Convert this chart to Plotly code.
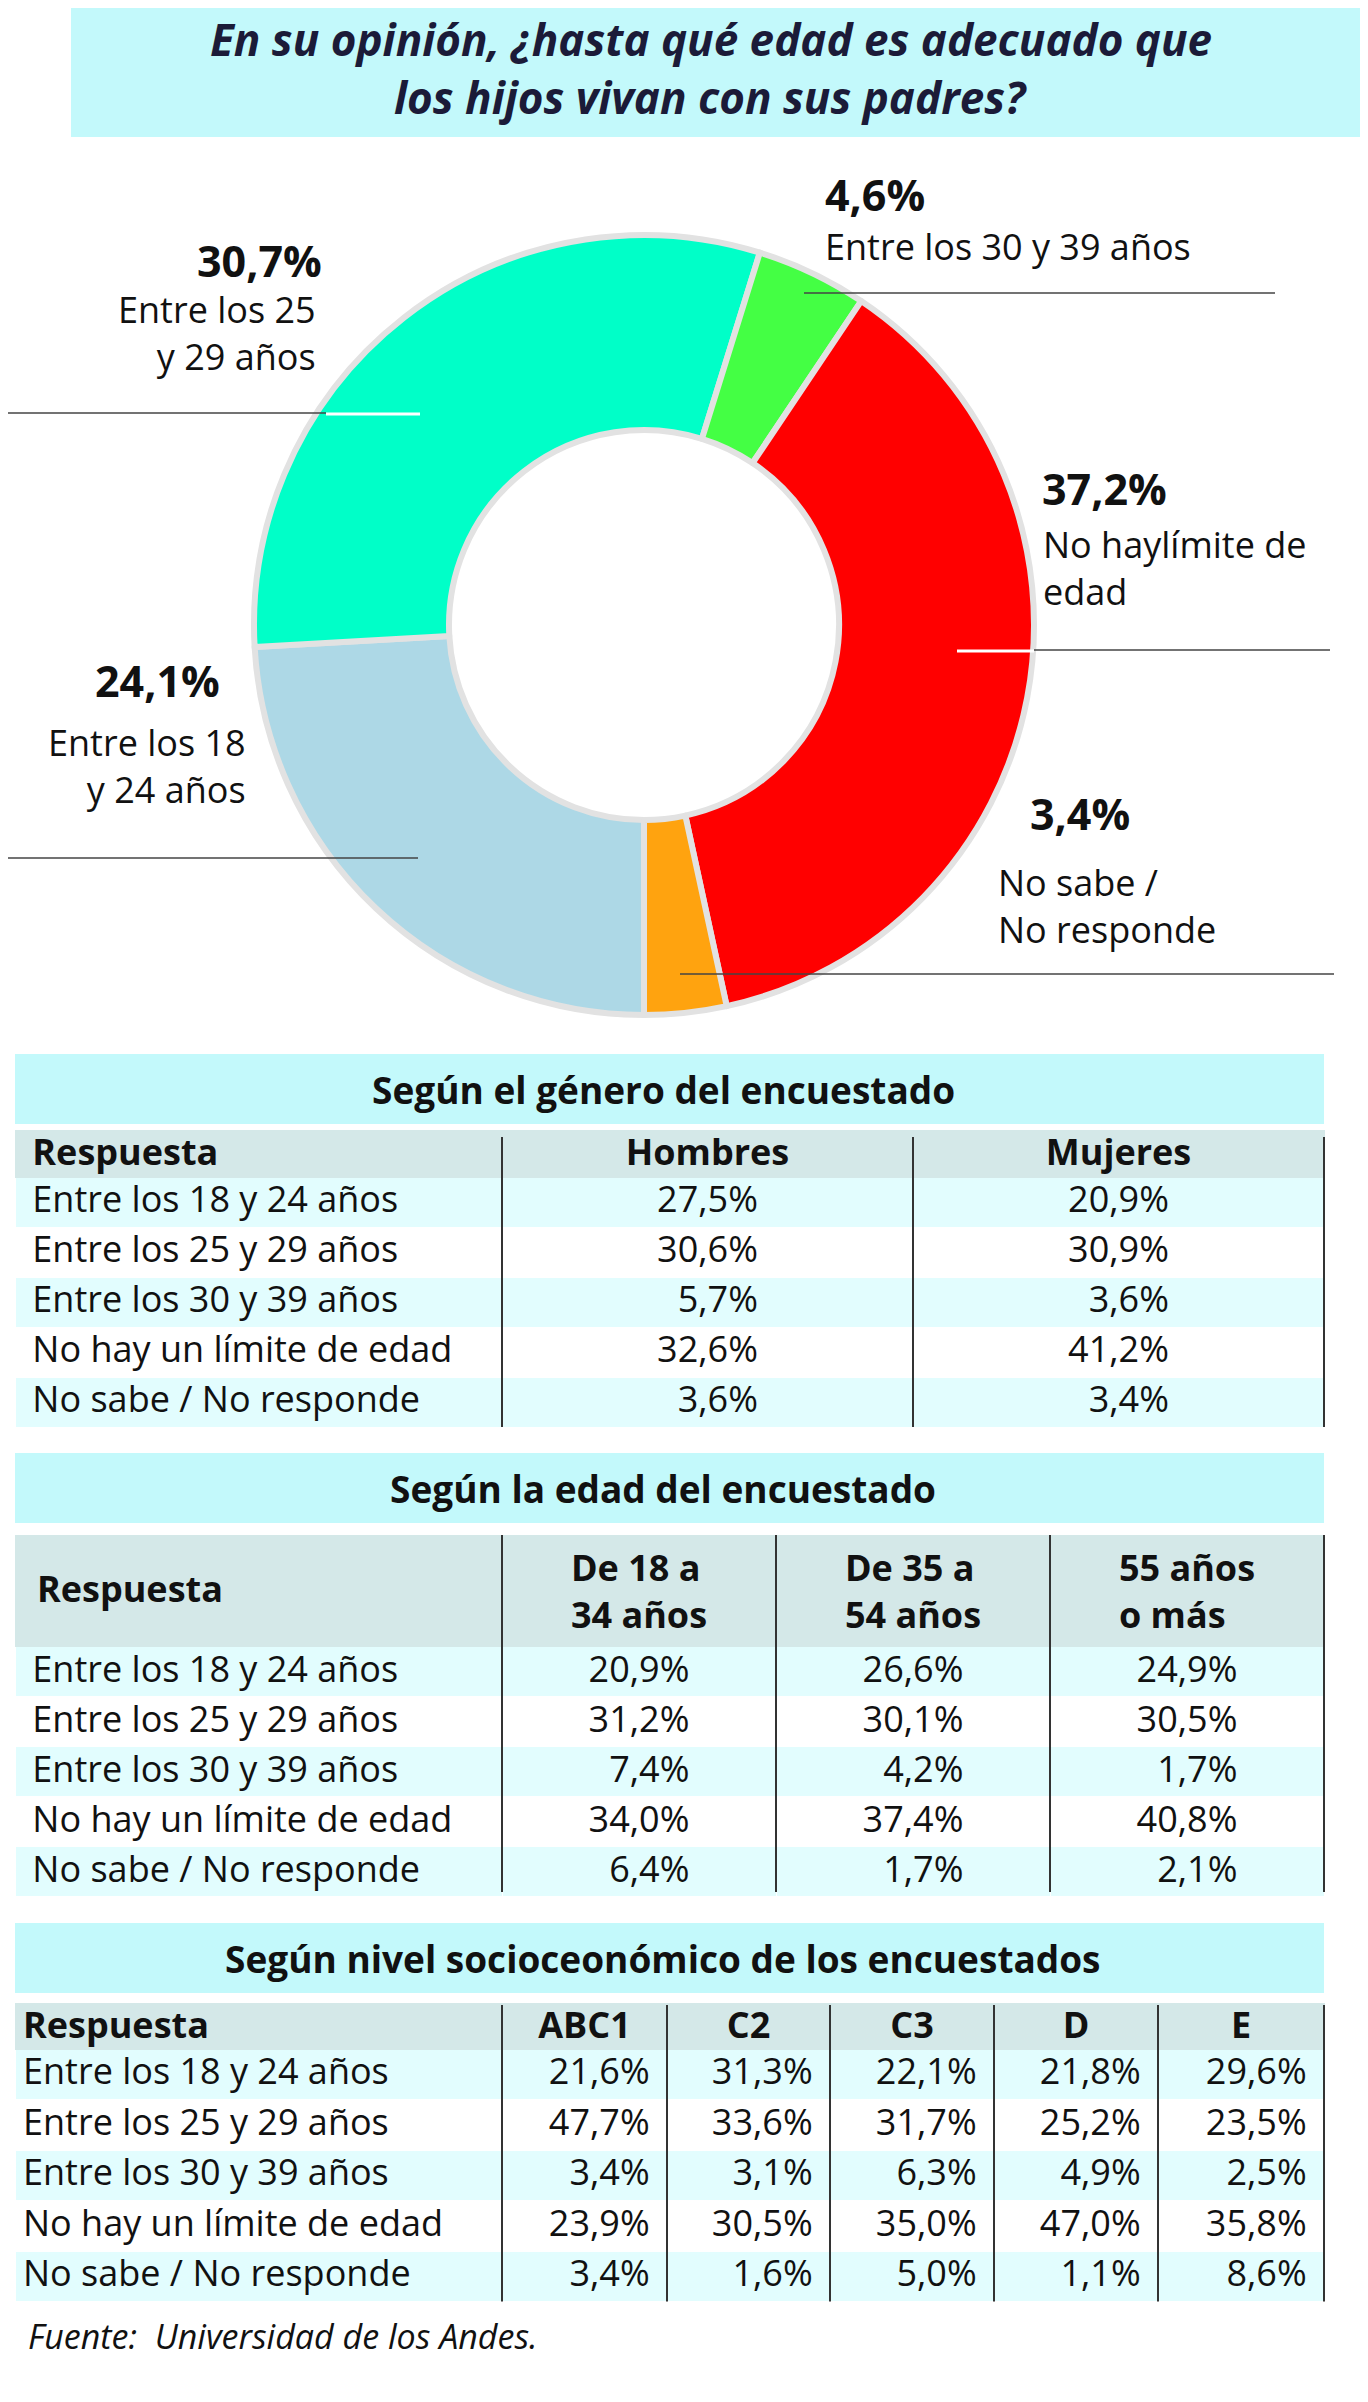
import plotly.graph_objects as go

W, H = 1368, 2402

# ── DATA ──────────────────────────────────────────────────────────────────────

TITLE_LINES = [
    "En su opinión, ¿hasta qué edad es adecuado que",
    "los hijos vivan con sus padres?",
]

SLICE_NAMES = [
    "Entre los 18<br>y 24 años",
    "Entre los 25<br>y 29 años",
    "Entre los 30 y 39 años",
    "No haylímite de<br>edad",
    "No sabe /<br>No responde",
]
SLICE_VALUES = [24.1, 30.7, 4.6, 37.2, 3.4]

RESPUESTAS = [
    "Entre los 18 y 24 años",
    "Entre los 25 y 29 años",
    "Entre los 30 y 39 años",
    "No hay un límite de edad",
    "No sabe / No responde",
]

GENERO_TITLE = "Según el género del encuestado"
GENERO_COLS = ["Hombres", "Mujeres"]
HOMBRES = [27.5, 30.6, 5.7, 32.6, 3.6]
MUJERES = [20.9, 30.9, 3.6, 41.2, 3.4]

EDAD_TITLE = "Según la edad del encuestado"
EDAD_COLS = ["De 18 a<br>34 años", "De 35 a<br>54 años", "55 años<br>o más"]
EDAD_18_34 = [20.9, 31.2, 7.4, 34.0, 6.4]
EDAD_35_54 = [26.6, 30.1, 4.2, 37.4, 1.7]
EDAD_55_MAS = [24.9, 30.5, 1.7, 40.8, 2.1]

NSE_TITLE = "Según nivel socioceonómico de los encuestados"
NSE_COLS = ["ABC1", "C2", "C3", "D", "E"]
NSE_ABC1 = [21.6, 47.7, 3.4, 23.9, 3.4]
NSE_C2 = [31.3, 33.6, 3.1, 30.5, 1.6]
NSE_C3 = [22.1, 31.7, 6.3, 35.0, 5.0]
NSE_D = [21.8, 25.2, 4.9, 47.0, 1.1]
NSE_E = [29.6, 23.5, 2.5, 35.8, 8.6]

SOURCE = "Fuente:  Universidad de los Andes."

# ── STYLE ─────────────────────────────────────────────────────────────────────

FONT = "Open Sans"
SLICE_COLORS = ["#add8e6", "#00ffc8", "#44ff44", "#ff0000", "#ffa30f"]
BAND_BG = "#c3f9fb"
HEAD_BG = "#d4e8e8"
ROW_BG = "#e2fdfe"
TEXT = "#111111"

# label placement for each slice (px from top-left of the page)
LABEL_POS = [
    # pct_x, pct_y, name_x, name_y, anchor
    (214, 672, 240, 758, "right"),
    (316, 253, 310, 325, "right"),
    (815, 186, 815, 239, "left"),
    (1032, 480, 1033, 560, "left"),
    (1020, 805, 988, 898, "left"),
]
# leader lines: y, outer x, x where the ring starts, inner x
LEADERS = [
    (850, 0, 410, 410),
    (405, 0, 318, 412),
    (285, 1267, 796, 796),
    (642, 1322, 1026, 949),
    (966, 1326, 672, 672),
]


def px(x):
    return x / W


def py(y):
    return 1 - y / H


def pct(v):
    return f"{v:.1f}%".replace(".", ",")


def padded(v):
    s = pct(v)
    return "\u2007" * (5 - len(s)) + s


fig = go.Figure()

# ── TITLE ─────────────────────────────────────────────────────────────────────

fig.add_shape(type="rect", xref="paper", yref="paper",
              x0=px(63), x1=px(1368), y0=py(129), y1=py(0),
              fillcolor=BAND_BG, line_width=0, layer="below")
for line, yc in zip(TITLE_LINES, [31, 89]):
    fig.add_annotation(x=px(703), y=py(yc), xref="paper", yref="paper",
                       text=f"<b><i>{line}</i></b>", showarrow=False,
                       xanchor="center", yanchor="middle",
                       font=dict(family=FONT, size=44, color="#1b1b38"))

# ── DONUT ─────────────────────────────────────────────────────────────────────

cx, cy, r = 636, 617, 390
fig.add_trace(go.Pie(
    values=SLICE_VALUES,
    labels=[n.replace("<br>", " ") for n in SLICE_NAMES],
    hole=0.5,
    sort=False,
    direction="clockwise",
    rotation=180,
    textinfo="none",
    marker=dict(colors=SLICE_COLORS, line=dict(color="#e2e2e2", width=6)),
    domain=dict(x=[px(cx - r), px(cx + r)], y=[py(cy + r), py(cy - r)]),
    showlegend=False,
    hoverinfo="label+value",
))

for (yl, x_out, x_edge, x_in) in LEADERS:
    fig.add_shape(type="line", xref="paper", yref="paper",
                  x0=px(x_out), x1=px(x_edge), y0=py(yl), y1=py(yl),
                  line=dict(color="#444444", width=1.5))
    if x_edge != x_in:
        fig.add_shape(type="line", xref="paper", yref="paper",
                      x0=px(x_edge), x1=px(x_in), y0=py(yl + 1), y1=py(yl + 1),
                      line=dict(color="white", width=3))

for v, name, (pxx, pyy, nx, ny, anc) in zip(SLICE_VALUES, SLICE_NAMES, LABEL_POS):
    fig.add_annotation(x=px(pxx), y=py(pyy), xref="paper", yref="paper",
                       text=f"<b>{pct(v)}</b>", showarrow=False,
                       xanchor=anc, yanchor="middle",
                       font=dict(family=FONT, size=43, color=TEXT))
    fig.add_annotation(x=px(nx), y=py(ny), xref="paper", yref="paper",
                       text=name, showarrow=False, align=anc,
                       xanchor=anc, yanchor="middle",
                       font=dict(family=FONT, size=36, color=TEXT))

# ── TABLES ────────────────────────────────────────────────────────────────────

TX0, TX1 = 7, 1316


def add_table(title, title_y, head_cols, value_cols, widths, top, head_h, row_h,
              lead, val_align, line_top):
    # title band
    fig.add_shape(type="rect", xref="paper", yref="paper",
                  x0=px(TX0), x1=px(TX1), y0=py(title_y + 35), y1=py(title_y - 35),
                  fillcolor=BAND_BG, line_width=0, layer="below")
    fig.add_annotation(x=px(655), y=py(title_y), xref="paper", yref="paper",
                       text=f"<b>{title}</b>", showarrow=False,
                       xanchor="center", yanchor="middle",
                       font=dict(family=FONT, size=37, color=TEXT))

    n_rows = len(RESPUESTAS)
    row_fill = [ROW_BG if i % 2 == 0 else "white" for i in range(n_rows)]
    ncol = len(head_cols) + 1
    if val_align == "right":
        cells = [[pct(v) + "\u00a0" for v in col] for col in value_cols]
    else:
        cells = [[padded(v) for v in col] for col in value_cols]

    two_line = any("<br>" in h for h in head_cols)
    head_first = "" if two_line else lead + "Respuesta"
    total = head_h + n_rows * row_h
    fig.add_trace(go.Table(
        domain=dict(x=[px(TX0), px(TX1)], y=[py(top + total + 14), py(top)]),
        columnwidth=widths,
        header=dict(
            values=[head_first] + head_cols,
            fill_color=HEAD_BG,
            line=dict(color=HEAD_BG, width=1),
            align=["left"] + ["center"] * (ncol - 1),
            font=dict(family=FONT, size=36, color=TEXT, weight="bold"),
            height=head_h,
        ),
        cells=dict(
            values=[[lead + t for t in RESPUESTAS]] + cells,
            fill_color=[row_fill] * ncol,
            line=dict(color="white", width=1),
            align=["left"] + [val_align] * (ncol - 1),
            font=dict(family=FONT, size=36, color=TEXT),
            height=row_h,
        ),
    ))
    if two_line:
        # the first header cell is centred vertically in the tall header
        fig.add_annotation(x=px(TX0 + 20), y=py(top + head_h / 2), xref="paper",
                           yref="paper", text="<b>Respuesta</b>", showarrow=False,
                           xanchor="left", yanchor="middle",
                           font=dict(family=FONT, size=36, color=TEXT))
    # vertical separators
    span = TX1 - TX0
    tot_w = sum(widths)
    acc = 0
    for w in widths:
        acc += w
        xline = TX0 + span * acc / tot_w
        fig.add_shape(type="line", xref="paper", yref="paper",
                      x0=px(xline), x1=px(xline),
                      y0=py(line_top), y1=py(top + total),
                      line=dict(color="#333333", width=2))


add_table(GENERO_TITLE, 1081, GENERO_COLS, [HOMBRES, MUJERES],
          [487, 411, 411], 1122, 47, 50, "\u00a0", "center", 1129)
add_table(EDAD_TITLE, 1480, EDAD_COLS, [EDAD_18_34, EDAD_35_54, EDAD_55_MAS],
          [487, 274, 274, 274], 1527, 107, 50, "\u00a0", "center", 1527)
add_table(NSE_TITLE, 1950, NSE_COLS, [NSE_ABC1, NSE_C2, NSE_C3, NSE_D, NSE_E],
          [487, 165, 163, 164, 164, 166], 1995, 46, 50.5, "", "right", 1997)

fig.add_annotation(x=px(18), y=py(2328), xref="paper", yref="paper",
                   text=f"<i>{SOURCE}</i>", showarrow=False,
                   xanchor="left", yanchor="middle",
                   font=dict(family=FONT, size=34, color=TEXT))

fig.update_layout(
    width=W, height=H,
    margin=dict(l=0, r=0, t=0, b=0),
    paper_bgcolor="white",
    plot_bgcolor="white",
)

fig.write_html("out.html")
